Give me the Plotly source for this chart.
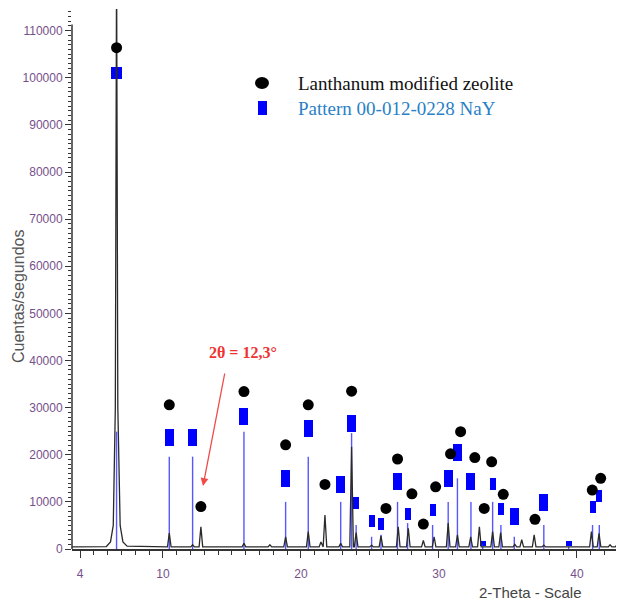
import plotly.graph_objects as go

# ---------------- data ----------------
# measured diffractogram (black): main reflection profile + other reflections
main_x = [3.4, 5.9, 6.2, 6.4, 6.55, 6.64, 6.73, 6.9, 7.1, 7.4]
main_y = [450, 520, 1500, 5000, 30000, 125000, 30000, 5000, 1500, 600]
peak_pos = [10.46, 12.15, 12.75, 15.87, 17.75, 18.89, 20.53, 21.45, 21.74, 22.88,
            23.67, 24.0, 25.12, 25.8, 27.05, 27.78, 28.87, 29.65, 30.67, 31.34,
            32.3, 32.93, 33.89, 34.47, 35.5, 36.0, 36.9, 37.6, 41.05, 41.6,
            42.4, 42.9]
peak_h = [3400, 900, 4700, 1200, 900, 2600, 3700, 1500, 7200, 1200,
          21700, 3500, 800, 2800, 4700, 4400, 1800, 2600, 5500, 3000,
          2600, 4700, 3700, 3500, 1000, 2000, 3000, 800, 3700, 3300,
          900, 900]
baseline_counts = 450
x_end = 43.1

# reference pattern 00-012-0228 NaY (blue sticks)
pat_pos = [6.64, 10.46, 12.15, 15.87, 18.89, 20.53, 22.88, 23.67, 24.0, 25.12,
           25.8, 27.0, 27.73, 29.54, 30.67, 31.34, 32.32, 33.17, 33.89, 34.49,
           35.46, 37.6, 39.4, 41.13, 41.62]
pat_h = [24900, 19600, 19600, 24900, 10000, 19600, 10000, 24600, 5100, 2600,
         3000, 10000, 5500, 5100, 10000, 15000, 10000, 1000, 10000, 5100,
         2600, 5100, 500, 5100, 5100]

# blue rectangle markers (pattern identification)
sq_pos = [6.64, 10.46, 12.15, 15.87, 18.89, 20.53, 22.88, 23.67, 24.0, 25.12,
          25.8, 27.0, 27.73, 29.54, 30.67, 31.34, 32.32, 33.17, 33.89, 34.49,
          35.46, 37.6, 39.4, 41.13, 41.62]
sq_y = [101000, 23600, 23600, 28200, 14900, 25600, 13600, 26700, 9800, 6000,
        5300, 14300, 7400, 8300, 14900, 20400, 14400, 1200, 13900, 8400,
        6900, 9800, 1100, 9000, 11300]
sq_kind = ["M", "B", "B", "B", "B", "B", "B", "B", "S", "S",
           "S", "B", "S", "S", "B", "B", "B", "T", "S", "S",
           "B", "B", "T", "S", "S"]

# black circle markers (lanthanum modified zeolite)
dot_pos = [6.64, 10.46, 12.75, 15.87, 18.89, 20.53, 21.74, 23.67, 26.16, 27.0,
           28.04, 28.87, 29.76, 30.84, 31.57, 32.6, 33.28, 33.82, 34.66, 36.96,
           41.11, 41.72]
dot_y = [106400, 30600, 9000, 33400, 22100, 30600, 13700, 33500, 8600, 19100,
         11700, 5300, 13200, 20200, 24900, 19400, 8600, 18500, 11600, 6300,
         12500, 15000]

y_ticks = list(range(0, 110001, 10000))
y_ticktext = [str(v) for v in y_ticks]
x_ticks = [4, 10, 20, 30, 40]

# ---------------- geometry / style ----------------
OFF = 8                     # default page body margin around the figure
X0, X1 = 3.41, 43.12
Y0, Y1 = 0, 114600
W, H = 624 - OFF, 604 - OFF
ML, MR, MT, MB = 72 - OFF, 4, 9 - OFF, 55
PW, PH = W - ML - MR, H - MT - MB
ux = (X1 - X0) / PW      # data units per px (x)
uy = (Y1 - Y0) / PH      # counts per px (y)
half_foot = 0.13

kind_px = {"M": (11, 12), "B": (9, 17), "S": (6, 12), "T": (6, 5)}


def px_to_paper(px, py):
    """page pixel -> paper coordinates"""
    fx, fy = px - OFF, py - OFF
    return (fx - ML) / PW, (H - MB - fy) / PH


# build measured profile (peaks as narrow spikes on baseline)
prof_x = list(main_x)
prof_y = list(main_y)
for p, h in zip(peak_pos, peak_h):
    prof_x += [p - half_foot, p, p + half_foot]
    prof_y += [baseline_counts, h, baseline_counts]
prof_x.append(x_end)
prof_y.append(baseline_counts)

stick_x, stick_y = [], []
for p, h in zip(pat_pos, pat_h):
    stick_x += [p, p, None]
    stick_y += [0, h, None]

sq_w = [kind_px[k][0] * ux for k in sq_kind]
sq_hh = [kind_px[k][1] * uy for k in sq_kind]
sq_base = [c - hh / 2 for c, hh in zip(sq_y, sq_hh)]

fig = go.Figure()
fig.add_trace(go.Scatter(x=stick_x, y=stick_y, mode="lines",
                         line=dict(color="rgba(45,45,255,0.8)", width=1.4),
                         hoverinfo="skip", showlegend=False))
fig.add_trace(go.Scatter(x=prof_x, y=prof_y, mode="lines",
                         line=dict(color="#2a2a2a", width=1.3),
                         showlegend=False))
fig.add_trace(go.Bar(x=sq_pos, y=sq_hh, base=sq_base, width=sq_w,
                     marker=dict(color="#0000ff", line=dict(width=0)),
                     showlegend=False))
fig.add_trace(go.Scatter(x=dot_pos, y=dot_y, mode="markers",
                         marker=dict(color="#000000", size=11, symbol="circle"),
                         showlegend=False))

label_color = "#76508a"
fig.update_layout(
    width=W, height=H,
    margin=dict(l=ML, r=MR, t=MT, b=MB),
    paper_bgcolor="white", plot_bgcolor="white",
    barmode="overlay", bargap=0,
    xaxis=dict(range=[X0, X1], showgrid=False, zeroline=False,
               showline=True, linecolor="#333", linewidth=1.5,
               tickmode="array", tickvals=x_ticks,
               ticks="outside", ticklen=7, tickwidth=1.2, tickcolor="#333",
               ticklabelstandoff=6,
               tickfont=dict(family="Liberation Sans, Arial", size=12, color=label_color),
               minor=dict(tickmode="linear", dtick=1, tick0=0, ticks="outside", ticklen=4,
                          tickcolor="#333", tickwidth=1)),
    yaxis=dict(range=[Y0, Y1], showgrid=False, zeroline=False,
               showline=False,
               tickmode="array", tickvals=y_ticks, ticktext=y_ticktext,
               ticks="outside", ticklen=6, tickwidth=1.2, tickcolor="#333",
               tickfont=dict(family="Liberation Sans, Arial", size=12, color=label_color),
               minor=dict(tickmode="linear", dtick=1000, tick0=0, ticks="outside", ticklen=3,
                          tickcolor="#333", tickwidth=1)),
)

# y axis line (ends just above the top label)
fig.add_shape(type="line", xref="paper", yref="y", x0=0, x1=0, y0=0, y1=111300,
              line=dict(color="#333", width=1.5))

# legend glyphs and texts
ex0, ey0 = px_to_paper(255, 89)
ex1, ey1 = px_to_paper(269, 77)
fig.add_shape(type="circle", xref="paper", yref="paper", x0=ex0, y0=ey0, x1=ex1, y1=ey1,
              fillcolor="#000", line=dict(width=0))
sx0, sy0 = px_to_paper(258, 115)
sx1, sy1 = px_to_paper(267, 101)
fig.add_shape(type="rect", xref="paper", yref="paper", x0=sx0, y0=sy0, x1=sx1, y1=sy1,
              fillcolor="#0000ff", line=dict(width=0))

tx, ty = px_to_paper(296, 83)
fig.add_annotation(xref="paper", yref="paper", x=tx, y=ty, xanchor="left", yanchor="middle",
                   text="Lanthanum modified zeolite", showarrow=False,
                   font=dict(family="Liberation Serif, Times New Roman", size=19, color="#111"))
tx, ty = px_to_paper(296, 108)
fig.add_annotation(xref="paper", yref="paper", x=tx, y=ty, xanchor="left", yanchor="middle",
                   text="Pattern 00-012-0228 NaY", showarrow=False,
                   font=dict(family="Liberation Serif, Times New Roman", size=19, color="#2a7fc6"))

# red annotation
tx, ty = px_to_paper(243, 352)
fig.add_annotation(xref="paper", yref="paper", x=tx, y=ty, xanchor="center", yanchor="middle",
                   text="<b>2θ = 12,3°</b>", showarrow=False,
                   font=dict(family="Liberation Serif, Times New Roman", size=16, color="#ee3333"))
ax_, ay_ = px_to_paper(203, 486)
fig.add_annotation(xref="paper", yref="paper", x=ax_, y=ay_, text="", showarrow=True,
                   ax=22, ay=-114, arrowhead=2, arrowsize=1.2, arrowwidth=1.3,
                   arrowcolor="#f04a4a")

# axis titles
tx, ty = px_to_paper(18, 297)
fig.add_annotation(xref="paper", yref="paper", x=tx, y=ty, text="Cuentas/segundos",
                   textangle=-90, showarrow=False, xanchor="center", yanchor="middle",
                   font=dict(family="Liberation Sans, Arial", size=16, color="#555"))
tx, ty = px_to_paper(530, 592)
fig.add_annotation(xref="paper", yref="paper", x=tx, y=ty, text="2-Theta - Scale",
                   showarrow=False, xanchor="center", yanchor="middle",
                   font=dict(family="Liberation Sans, Arial", size=15, color="#444"))

fig.write_html("out.html")
